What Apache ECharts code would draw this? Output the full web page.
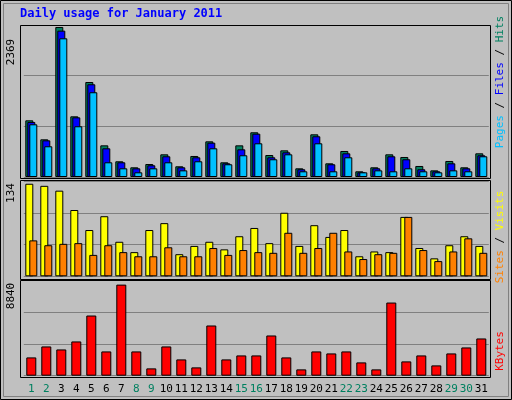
<!DOCTYPE html>
<html><head><meta charset="utf-8">
<script src="https://cdn.jsdelivr.net/npm/echarts@6/dist/echarts.min.js"></script>
<style>html,body{margin:0;padding:0;background:#c0c0c0}#c{width:512px;height:400px}</style>
</head><body><div id="c"></div>
<script>
const days = ['1','2','3','4','5','6','7','8','9','10','11','12','13','14','15','16','17','18','19','20','21','22','23','24','25','26','27','28','29','30','31'];
const weekend = ['1','2','8','9','15','16','22','23','29','30'];
const hits  = [895,595,2369,958,1500,500,248,153,205,358,169,332,563,232,500,706,347,421,137,674,216,411,90,153,358,316,174,105,253,153,374];
const files = [869,579,2311,942,1464,453,232,137,185,327,153,311,542,216,437,684,311,390,122,643,201,374,74,137,327,280,122,90,216,137,343];
const pages = [832,485,2190,801,1338,232,137,74,137,232,105,248,453,201,343,532,280,358,90,532,90,311,74,105,90,137,90,74,105,90,327];
const visits = [134,131,124,96,67,87,50,35,67,77,32,44,50,39,58,70,48,92,44,74,57,67,29,36,35,86,41,26,45,58,44];
const sites  = [52,45,47,48,31,45,35,29,29,42,29,29,41,31,38,35,34,63,34,41,63,36,25,32,34,86,38,22,36,55,34];
const kbytes = [1775,2840,2549,3324,5841,2356,8840,2356,710,2840,1581,807,4873,1581,1968,1968,3904,1775,613,2356,2162,2356,1291,613,7099,1388,1968,1000,2162,2743,3614];
const maxLabels = ['2369','134','8840'];

const font = 'DejaVu Sans Mono';
const L = 23.8, R = 23.2;
const grids = [
  {left:L,right:R,top:25,bottom:223},
  {left:L,right:R,top:181,bottom:123.7},
  {left:L,right:R,top:280.5,bottom:24.3}
];
function xa(i, show){
  return {type:'category',gridIndex:i,data:days,boundaryGap:true,
    axisLine:{show:false},axisTick:{show:false},
    axisLabel:show?{show:true,interval:0,margin:8,fontFamily:font,fontSize:11,
      color:(v)=>weekend.includes(v)?'#008060':'#000'}:{show:false}};
}
function ya(i,max,intv){
  return {type:'value',gridIndex:i,min:0,max:max,interval:intv,
    axisLabel:{show:false},axisLine:{show:false},axisTick:{show:false},
    splitLine:{show:true,lineStyle:{color:'#808080',width:1}}};
}
const bs = {borderColor:'#000',borderWidth:1};
const chart = echarts.init(document.getElementById('c'));
chart.setOption({
  backgroundColor:'#c0c0c0',
  animation:false,
  grid:grids,
  xAxis:[xa(0,false),xa(1,false),xa(2,true)],
  yAxis:[ya(0,2400,800),ya(1,138,46),ya(2,9240,3080)],
  series:[
    {type:'bar',xAxisIndex:0,yAxisIndex:0,data:hits,barWidth:8,barGap:'-75%',itemStyle:Object.assign({color:'#008060'},bs)},
    {type:'bar',xAxisIndex:0,yAxisIndex:0,data:files,barWidth:8,barGap:'-75%',itemStyle:Object.assign({color:'#0000ff'},bs)},
    {type:'bar',xAxisIndex:0,yAxisIndex:0,data:pages,barWidth:8,barGap:'-75%',itemStyle:Object.assign({color:'#00c0ff'},bs)},
    {type:'bar',xAxisIndex:1,yAxisIndex:1,data:visits,barWidth:8,barGap:'-50%',itemStyle:Object.assign({color:'#ffff00'},bs)},
    {type:'bar',xAxisIndex:1,yAxisIndex:1,data:sites,barWidth:8,barGap:'-50%',itemStyle:Object.assign({color:'#ff8000'},bs)},
    {type:'bar',xAxisIndex:2,yAxisIndex:2,data:kbytes,barWidth:10,itemStyle:Object.assign({color:'#ff0000'},bs)}
  ],
  graphic:[
    {type:'rect',shape:{x:0.5,y:0.5,width:511,height:399},style:{fill:'none',stroke:'#000',lineWidth:1},z:100},
    {type:'rect',shape:{x:3.5,y:3.5,width:505,height:393},style:{fill:'none',stroke:'#808080',lineWidth:1},z:100},
    {type:'rect',shape:{x:20.5,y:25.5,width:470,height:153},style:{fill:'none',stroke:'#000',lineWidth:1},z:100},
    {type:'rect',shape:{x:20.5,y:180.5,width:470,height:99},style:{fill:'none',stroke:'#000',lineWidth:1},z:100},
    {type:'rect',shape:{x:20.5,y:280.5,width:470,height:97},style:{fill:'none',stroke:'#000',lineWidth:1},z:100},
    {type:'text',left:20,top:8,style:{text:'Daily usage for January 2011',fill:'#0000ff',font:'bold 12px '+font}},
    {type:'text',x:11,y:52,rotation:Math.PI/2,style:{text:maxLabels[0],fill:'#000',font:'11px '+font,align:'center',verticalAlign:'middle'}},
    {type:'text',x:11,y:193,rotation:Math.PI/2,style:{text:maxLabels[1],fill:'#000',font:'11px '+font,align:'center',verticalAlign:'middle'}},
    {type:'text',x:11,y:296,rotation:Math.PI/2,style:{text:maxLabels[2],fill:'#000',font:'11px '+font,align:'center',verticalAlign:'middle'}},
    {type:'text',x:500,y:82,rotation:Math.PI/2,style:{text:'{a|Pages}{s| / }{b|Files}{s| / }{c|Hits}',align:'center',verticalAlign:'middle',font:'11px '+font,
      rich:{a:{fill:'#00c0ff',font:'11px '+font},b:{fill:'#0000ff',font:'11px '+font},c:{fill:'#008060',font:'11px '+font},s:{fill:'#000',font:'11px '+font}}}},
    {type:'text',x:500,y:237,rotation:Math.PI/2,style:{text:'{a|Sites}{s| / }{b|Visits}',align:'center',verticalAlign:'middle',font:'11px '+font,
      rich:{a:{fill:'#ff8000',font:'11px '+font},b:{fill:'#ffff00',font:'11px '+font},s:{fill:'#000',font:'11px '+font}}}},
    {type:'text',x:500,y:351,rotation:Math.PI/2,style:{text:'KBytes',fill:'#ff0000',font:'11px '+font,align:'center',verticalAlign:'middle'}}
  ]
});
</script></body></html>
